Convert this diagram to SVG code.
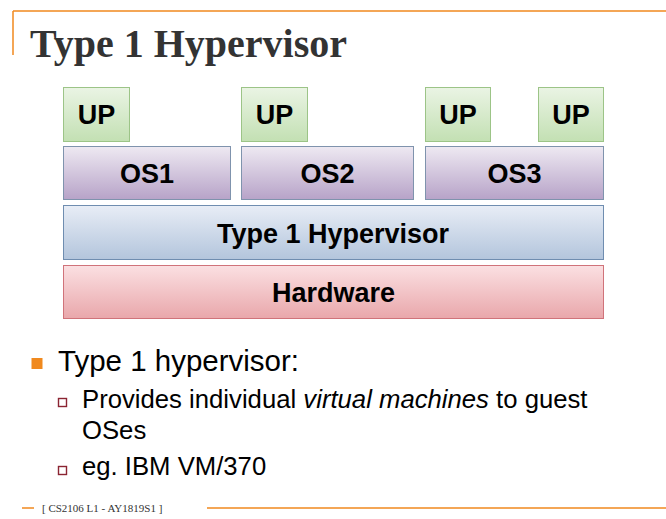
<svg xmlns="http://www.w3.org/2000/svg" width="666" height="519" viewBox="0 0 666 519">
<defs>
<linearGradient id="gUP" x1="0" y1="0" x2="0" y2="1"><stop offset="0" stop-color="#eaf4e4"/><stop offset="1" stop-color="#c3e0b3"/></linearGradient>
<linearGradient id="gOS" x1="0" y1="0" x2="0" y2="1"><stop offset="0" stop-color="#eee9f2"/><stop offset="1" stop-color="#b7a3c8"/></linearGradient>
<linearGradient id="gHV" x1="0" y1="0" x2="0" y2="1"><stop offset="0" stop-color="#e8edf6"/><stop offset="1" stop-color="#b3c5dc"/></linearGradient>
<linearGradient id="gHW" x1="0" y1="0" x2="0" y2="1"><stop offset="0" stop-color="#fbe0e2"/><stop offset="1" stop-color="#e9a7ab"/></linearGradient>
</defs>
<style>
.up{fill:url(#gUP);stroke:#9cc487;stroke-width:1}
.os{fill:url(#gOS);stroke:#7f93ad;stroke-width:1}
.hv{fill:url(#gHV);stroke:#6f8db0;stroke-width:1}
.hw{fill:url(#gHW);stroke:#d0737a;stroke-width:1}
.lbl{font-family:"Liberation Sans",Arial,sans-serif;font-weight:bold;font-size:27px;fill:#000;text-anchor:middle}
.body{font-family:"Liberation Sans",Arial,sans-serif;fill:#000}
.orange{stroke:#f0891e;stroke-width:1.5;fill:none}
.sq{fill:#fff;stroke:#8b2432;stroke-width:1.4}
</style>
<rect width="666" height="519" fill="#fff"/>
<line class="orange" x1="13" y1="11" x2="666" y2="11"/>
<line class="orange" x1="13" y1="11" x2="13" y2="55"/>
<text x="30" y="57" font-family="'Liberation Serif','Times New Roman',serif" font-weight="bold" font-size="40" fill="#333">Type 1 Hypervisor</text>

<g id="up1"><rect class="up" x="63.5" y="87.5" width="66" height="54"/><text class="lbl" x="96.5" y="124">UP</text></g>
<g id="up2"><rect class="up" x="241.5" y="87.5" width="66" height="54"/><text class="lbl" x="274.5" y="124">UP</text></g>
<g id="up3"><rect class="up" x="425.5" y="87.5" width="65" height="54"/><text class="lbl" x="458" y="124">UP</text></g>
<g id="up4"><rect class="up" x="538.5" y="87.5" width="65" height="54"/><text class="lbl" x="571" y="124">UP</text></g>

<g id="os1"><rect class="os" x="63.5" y="146.5" width="167" height="53"/><text class="lbl" x="147" y="183">OS1</text></g>
<g id="os2"><rect class="os" x="241.5" y="146.5" width="172" height="53"/><text class="lbl" x="327.5" y="183">OS2</text></g>
<g id="os3"><rect class="os" x="425.5" y="146.5" width="178" height="53"/><text class="lbl" x="514.5" y="183">OS3</text></g>

<g id="hypervisor"><rect class="hv" x="63.5" y="205.5" width="540" height="54"/><text class="lbl" x="333" y="243">Type 1 Hypervisor</text></g>
<g id="hardware"><rect class="hw" x="63.5" y="265.5" width="540" height="53"/><text class="lbl" x="333.5" y="302">Hardware</text></g>

<g id="connectors"></g>

<rect x="31.5" y="358" width="11" height="11" fill="#f0891e"/>
<text class="body" x="58" y="371" font-size="29.5">Type 1 hypervisor:</text>
<rect x="58.5" y="398.5" width="8" height="8" class="sq"/>
<text class="body" x="82" y="408" font-size="25.7">Provides individual <tspan font-style="italic">virtual machines</tspan> to guest</text>
<text class="body" x="82" y="439" font-size="25.7">OSes</text>
<rect x="58.5" y="466.5" width="8" height="8" class="sq"/>
<text class="body" x="82" y="475" font-size="25.7">eg. IBM VM/370</text>

<line class="orange" x1="22" y1="508" x2="34" y2="508"/>
<line class="orange" x1="207" y1="508" x2="666" y2="508"/>
<text x="42" y="512" font-family="'Liberation Serif','Times New Roman',serif" font-size="11" fill="#333">[ CS2106 L1 - AY1819S1 ]</text>
</svg>
